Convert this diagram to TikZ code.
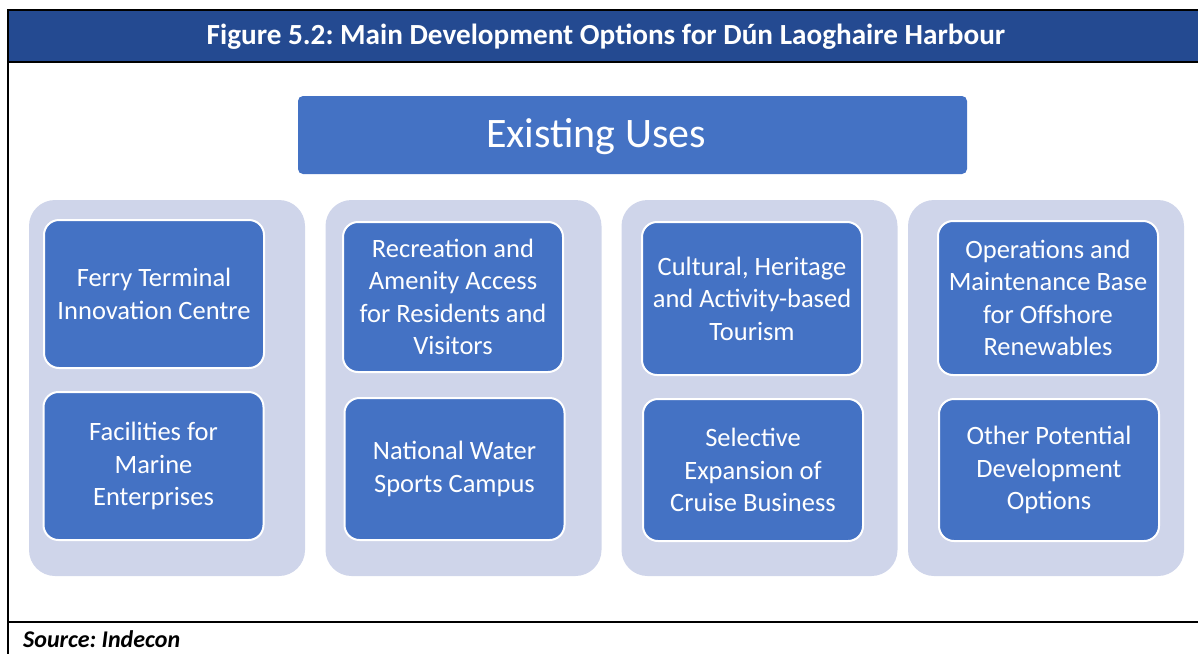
\documentclass[tikz,border=0pt]{standalone}
\usepackage{fontspec}
\setmainfont{Carlito}
\usepackage{xcolor}
\definecolor{band}{RGB}{36,74,145}
\definecolor{optblue}{RGB}{68,114,196}
\definecolor{lilac}{RGB}{207,213,234}
\usepackage{tikz}
\usetikzlibrary{positioning}
\frenchspacing

\begin{document}
\begin{tikzpicture}[
  x=1pt, y=-1pt,
  col/.style={rectangle,fill=lilac,rounded corners=26pt,
              inner sep=0pt, outer sep=0pt,
              minimum width=276pt, minimum height=376pt},
  opt/.style={rectangle,draw=white,fill=optblue,line width=2pt,
              rounded corners=15pt, inner sep=0pt,
              minimum width=220pt, align=center,
              font=\fontsize{26.5}{32.5}\selectfont\color{white}},
  hub/.style={rectangle,fill=optblue,rounded corners=5pt,
              minimum width=669pt, minimum height=78pt},
  frame/.style={black, line width=2.5pt},
]
  \useasboundingbox (0,0) rectangle (1198,653);

  %% Title band and frame
  \fill[band] (8,10) rectangle (1205,62);
  \draw[frame] (1205,10) -- (8,10) -- (8,660);
  \draw[frame] (8,62) -- (1205,62);
  \draw[frame] (8,622) -- (1205,622);
  \node[anchor=base, font=\fontsize{29.2}{33}\selectfont\bfseries\color{white}]
    (T) at (606,44) {Figure 5.2: Main Development Options for Dún Laoghaire Harbour};

  %% Existing uses
  \node[hub] (EU) at (632.5,135) {};
  \node[anchor=base, font=\fontsize{42}{50}\selectfont\color{white}]
    (EUt) at ([xshift=-36.5pt,yshift=-12pt]EU.center) {Existing Uses};

  %% Columns
  \node[col] (C1) at (167,388) {};
  \node[col] (C2) at (463.5,388) {};
  \node[col] (C3) at (759.5,388) {};
  \node[col] (C4) at (1046,388) {};

  %% Options
  \node[opt, minimum height=148pt] (O11) at (154,294)
    {Ferry Terminal\\Innovation Centre};
  \node[opt, minimum height=148pt] (O12) at (153.5,466)
    {Facilities for\\Marine\\Enterprises};

  \node[opt, minimum height=150pt] (O21) at (453,297)
    {Recreation and\\Amenity Access\\for Residents and\\Visitors};
  \node[opt, minimum height=142pt] (O22) at (454.5,469)
    {National Water\\Sports Campus};

  \node[opt, minimum height=153pt] (O31) at (752,298.5)
    {Cultural, Heritage\\and Activity-based\\Tourism};
  \node[opt, minimum height=142pt] (O32) at (753,470)
    {Selective\\Expansion of\\Cruise Business};

  \node[opt, minimum height=154pt] (O41) at (1048,298)
    {Operations and\\Maintenance Base\\for Offshore\\Renewables};
  \node[opt, minimum height=142pt] (O42) at (1049,470)
    {Other Potential\\Development\\Options};

  %% Source line
  \node[anchor=base west, inner sep=0pt,
        font=\fontsize{24}{28}\selectfont\bfseries\itshape]
    (S) at (23,647.5) {Source: Indecon};
\end{tikzpicture}
\end{document}
